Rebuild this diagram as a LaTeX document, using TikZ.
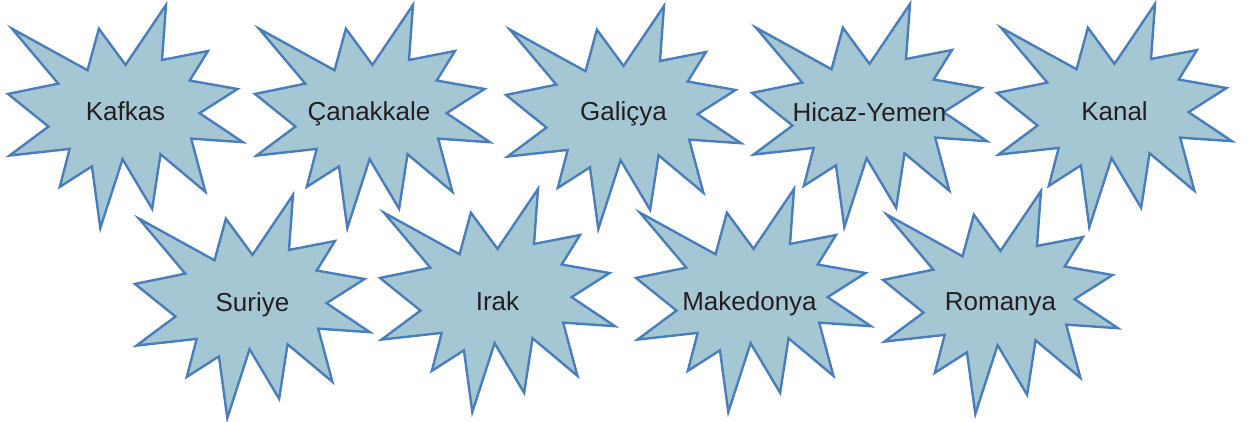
\documentclass[tikz,border=0pt]{standalone}
\usepackage{fontspec}
\setmainfont{Liberation Sans}
\definecolor{sealfill}{RGB}{165,199,212}
\definecolor{sealline}{RGB}{74,126,187}
\definecolor{txt}{RGB}{35,31,32}
\tikzset{
  sealstyle/.style={draw=sealline, fill=sealfill, line width=2.4pt, line join=miter},
  lbl/.style={anchor=base, inner sep=0pt, text=txt, font=\fontsize{26}{30}\selectfont},
  pics/explosion/.style={code={
    \begin{scope}[x=2.35pt, y=-2.23pt]
    \draw[sealstyle] (50.00,26.85) -- (67.23,0) -- (65.53,24.65) -- (85.09,20.63)
      -- (77.32,33.87) -- (97.67,37.67) -- (81.51,48.50) -- (100,61.53)
      -- (77.95,59.92) -- (84.00,83.77) -- (64.91,66.93) -- (61.33,91.38)
      -- (48.76,69.14) -- (39.28,100) -- (35.72,72.35) -- (22.05,81.56)
      -- (26.24,64.52) -- (0.63,67.53) -- (17.23,54.51) -- (0,39.88)
      -- (21.42,35.26) -- (1.71,10.63) -- (33.85,29.26) -- (38.67,10.63) -- cycle;
    \end{scope}
  }}
}
\begin{document}
\begin{tikzpicture}[x=1pt, y=-1pt]
\useasboundingbox (0,0) rectangle (1252,421);
% row 1
\pic at (8,5) {explosion};
\node[lbl] (kafkas) at (125.5,120) {Kafkas};
\pic at (255,5) {explosion};
\node[lbl] (canakkale) at (369,120) {Çanakkale};
\pic at (506,6) {explosion};
\node[lbl] (galicya) at (623.5,120.5) {Galiçya};
\pic at (752,4) {explosion};
\node[lbl] (hicaz) at (869.5,121) {Hicaz-Yemen};
\pic at (997,4) {explosion};
\node[lbl] (kanal) at (1114.5,120) {Kanal};
% row 2
\pic at (135,195) {explosion};
\node[lbl] (suriye) at (252.5,311.5) {Suriye};
\pic at (380,189) {explosion};
\node[lbl] (irak) at (497.5,310.5) {Irak};
\pic at (636,189) {explosion};
\node[lbl] (makedonya) at (749.5,310.5) {Makedonya};
\pic at (883,191) {explosion};
\node[lbl] (romanya) at (1000.5,310.5) {Romanya};
\end{tikzpicture}
\end{document}
